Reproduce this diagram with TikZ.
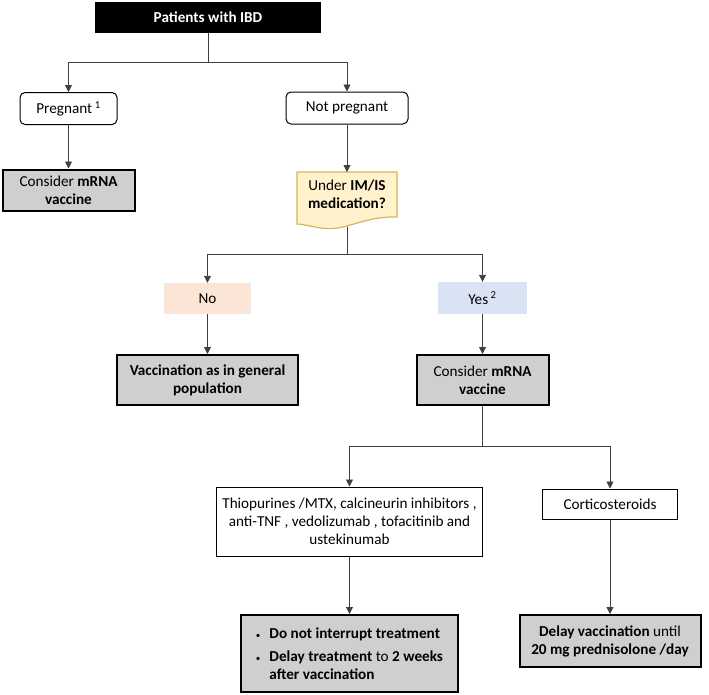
\documentclass[tikz,border=0pt]{standalone}
\usepackage{fontspec}
\setmainfont{Carlito}
\usetikzlibrary{arrows.meta}
\definecolor{boxgray}{HTML}{D0CECE}
\definecolor{docfill}{HTML}{FFF2CC}
\definecolor{docline}{HTML}{D6B656}
\definecolor{nofill}{HTML}{FBE5D6}
\definecolor{yesfill}{HTML}{DAE3F3}
\definecolor{linkgray}{HTML}{404040}
\tikzset{
  txt/.style={font=\fontsize{15.2}{18}\selectfont, align=center, inner sep=2pt},
  plainbox/.style={txt, draw=black, line width=1pt, fill=white},
  roundbox/.style={plainbox, rounded corners=5pt},
  actbox/.style={txt, draw=black, line width=2pt, fill=boxgray},
  answer/.style={txt},
  link/.style={draw=linkgray, line width=0.9pt},
  arrow/.style={link, -{Triangle[length=7pt,width=7pt]}}
}
\begin{document}
\begin{tikzpicture}[x=1pt,y=-1pt]
  \useasboundingbox (0,0) rectangle (709,694);

  % Drawing top box
  \node[txt, fill=black, text=white, minimum width=226, minimum height=31, font=\fontsize{15.2}{18}\selectfont\bfseries] (ibd) at (208,17.5) {Patients with IBD};

  % Drawing pregnant / not pregnant
  \node[roundbox, minimum width=97, minimum height=32] (preg) at (68.5,108.5) {Pregnant\,\textsuperscript{1}};
  \node[roundbox, minimum width=122, minimum height=32] (notpreg) at (347,108) {Not pregnant};

  % Drawing left outcome
  \node[actbox, minimum width=132, minimum height=41] (consl) at (68.5,190) {Consider \textbf{mRNA}\\\textbf{vaccine}};

  % Drawing document shape IM/IS
  \draw[docline, fill=docfill, line width=1.2pt] (297,172) -- (397,172) -- (397,217)
    .. controls (362,216) and (346,232) .. (321,228)
    .. controls (309,226) and (301,224) .. (297,224) -- cycle;
  \node[txt] (imis) at (347,194) {Under \textbf{IM/IS}\\\textbf{medication?}};
  \coordinate (imisb) at (347,227);

  % Drawing no / yes
  \node[answer, fill=nofill, minimum width=87, minimum height=31] (no) at (207.5,298.5) {No};
  \node[answer, fill=yesfill, minimum width=89, minimum height=32] (yes) at (482.5,298) {Yes\,\textsuperscript{2}};

  % Drawing middle outcomes
  \node[actbox, minimum width=181, minimum height=50] (vacc) at (207.5,380) {\textbf{Vaccination as in general}\\\textbf{population}};
  \node[actbox, minimum width=132, minimum height=50] (consr) at (482.5,380) {Consider \textbf{mRNA}\\\textbf{vaccine}};

  % Drawing medication boxes
  \node[plainbox, minimum width=266, minimum height=69] (thio) at (349.5,521.5) {Thiopurines /MTX, calcineurin inhibitors ,\\anti-TNF , vedolizumab , tofacitinib and\\ustekinumab};
  \node[plainbox, minimum width=135, minimum height=30] (cort) at (610,504) {Corticosteroids};

  % Drawing bottom outcomes
  \node[actbox, minimum width=217, minimum height=77, align=left] (delayl) at (349.5,653.5)
    {{\small\textbullet}\hspace{9pt}\textbf{Do not interrupt treatment}\\[5pt]
     {\small\textbullet}\hspace{9pt}\textbf{Delay treatment} to \textbf{2 weeks}\\
     \hphantom{{\small\textbullet}\hspace{9pt}}\textbf{after vaccination}};
  \node[actbox, minimum width=181, minimum height=52] (delayr) at (610,641) {\textbf{Delay vaccination} until\\\textbf{20 mg prednisolone /day}};

  % Drawing connectors
  \coordinate (j1) at (208,62);
  \coordinate (j2) at (347,254);
  \coordinate (j3) at (482.5,446);
  \draw[link] (ibd) -- (j1);
  \draw[arrow] (j1) -| (preg);
  \draw[arrow] (j1) -| (notpreg);
  \draw[arrow] (preg) -- (consl);
  \draw[arrow] (notpreg) -- (notpreg |- 0,172);
  \draw[link] (imisb) -- (j2);
  \draw[arrow] (j2) -| (no);
  \draw[arrow] (j2) -| (yes);
  \draw[arrow] (no) -- (vacc);
  \draw[arrow] (yes) -- (consr);
  \draw[link] (consr) -- (j3);
  \draw[arrow] (j3) -| (thio);
  \draw[arrow] (j3) -| (cort);
  \draw[arrow] (thio) -- (delayl);
  \draw[arrow] (cort) -- (delayr);
\end{tikzpicture}
\end{document}
